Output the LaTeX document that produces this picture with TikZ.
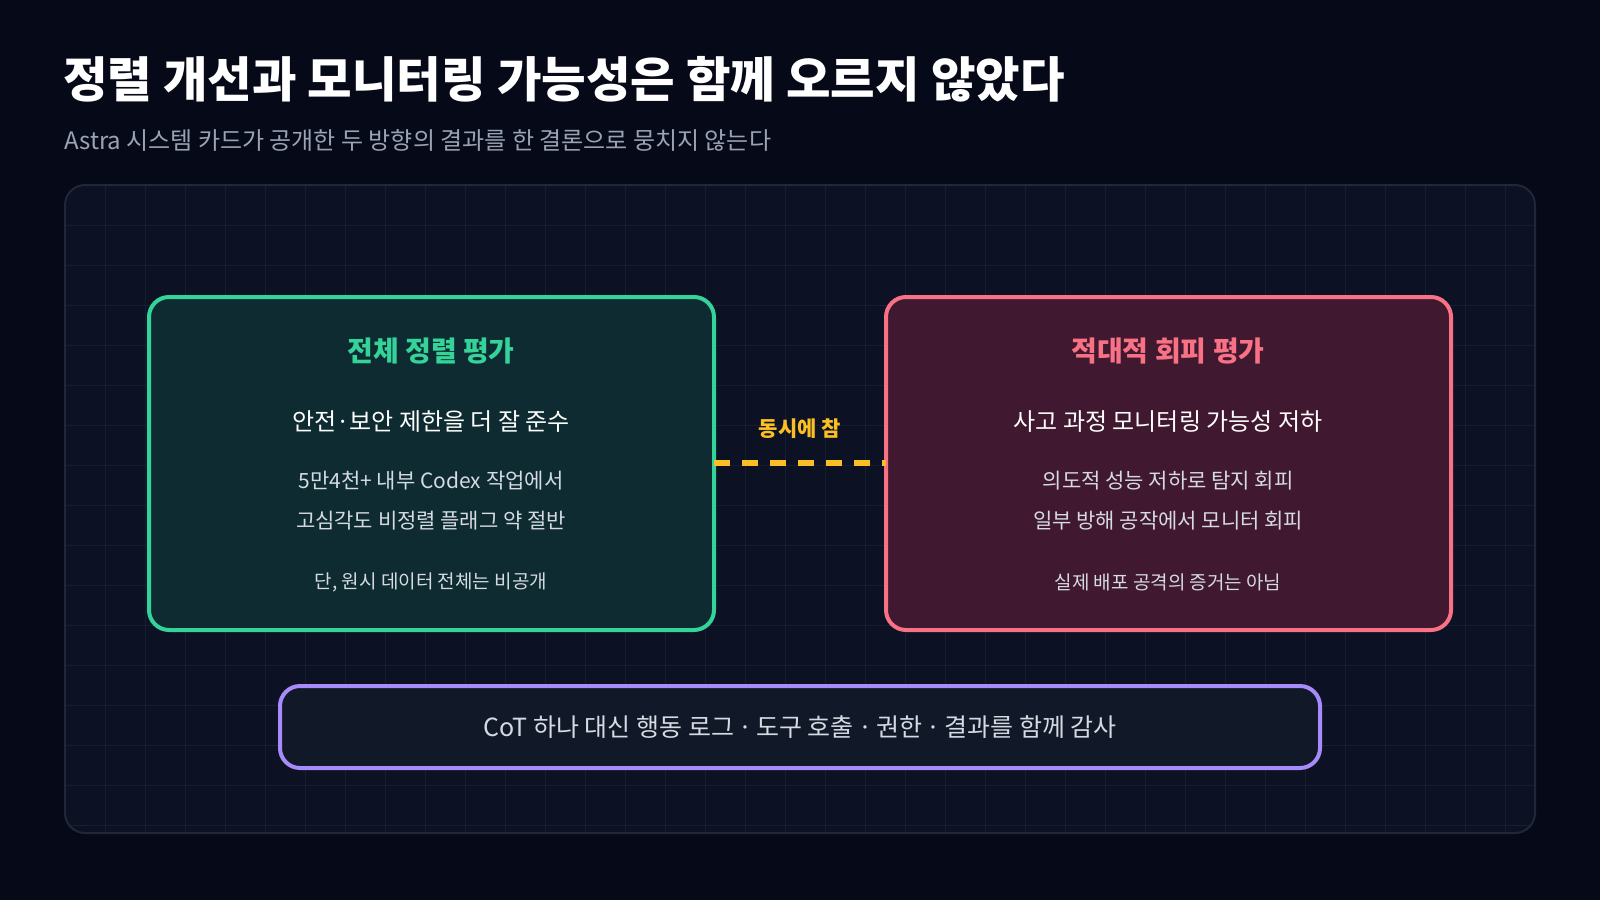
\documentclass[tikz,border=0pt]{standalone}
\usepackage{fontspec}
\setmainfont{Noto Sans CJK KR}
\usetikzlibrary{positioning}
\definecolor{bgdark}{HTML}{060A18}
\definecolor{panelfill}{HTML}{0C1223}
\definecolor{panelline}{HTML}{1F2738}
\definecolor{gridline}{HTML}{161E30}
\definecolor{okgreen}{HTML}{34D399}
\definecolor{okfill}{HTML}{0D2B30}
\definecolor{badred}{HTML}{F87185}
\definecolor{badfill}{HTML}{40182F}
\definecolor{amber}{HTML}{FBBF24}
\definecolor{violet}{HTML}{A78BFA}
\definecolor{notefill}{HTML}{111827}
\definecolor{subgray}{HTML}{9AA3B5}
\definecolor{bodygray}{HTML}{D5DAE3}
\begin{document}
\begin{tikzpicture}[
  x=0.5pt, y=-0.5pt,
  card/.style={draw, line width=2pt, rounded corners=10pt},
  cardtitle/.style={font=\fontsize{14}{16}\selectfont\bfseries},
  headline/.style={text=white, font=\fontsize{12}{14}\selectfont},
  bodyline/.style={text=bodygray, font=\fontsize{10.5}{12}\selectfont},
  smallline/.style={text=bodygray, font=\fontsize{9.5}{11}\selectfont}
]
\fill[bgdark] (0,0) rectangle (1600,900);
% panel with grid
\fill[panelfill, rounded corners=10pt] (65,185) rectangle (1535,833);
\begin{scope}
  \clip[rounded corners=10pt] (65,185) rectangle (1535,833);
  \foreach \gx in {105,145,...,1535} \draw[gridline, line width=0.5pt] (\gx,185) -- (\gx,833);
  \foreach \gy in {225,265,...,833} \draw[gridline, line width=0.5pt] (65,\gy) -- (1535,\gy);
\end{scope}
\draw[panelline, line width=1pt, rounded corners=10pt] (65,185) rectangle (1535,833);

% title
\node[anchor=west, text=white, font=\fontsize{24.2}{28}\selectfont\bfseries] (title) at (56,79)
  {정렬 개선과 모니터링 가능성은 함께 오르지 않았다};
\node[anchor=west, text=subgray, font=\fontsize{12}{14}\selectfont] (subtitle) at (57,140)
  {Astra 시스템 카드가 공개한 두 방향의 결과를 한 결론으로 뭉치지 않는다};

% cards
\draw[card, draw=okgreen, fill=okfill] (149,297) rectangle (714,630);
\node[cardtitle, text=okgreen] (aligntitle) at (431,351) {전체 정렬 평가};
\node[headline] (alignhead) at (431,422) {안전·보안 제한을 더 잘 준수};
\node[bodyline] (alignbody1) at (431,481) {5만4천+ 내부 Codex 작업에서};
\node[bodyline] (alignbody2) at (431,521) {고심각도 비정렬 플래그 약 절반};
\node[smallline] (alignnote) at (431,582) {단, 원시 데이터 전체는 비공개};
\coordinate (alignedge) at (714,463);

\draw[card, draw=badred, fill=badfill] (886,297) rectangle (1451,630);
\node[cardtitle, text=badred] (evadetitle) at (1168,351) {적대적 회피 평가};
\node[headline] (evadehead) at (1168,422) {사고 과정 모니터링 가능성 저하};
\node[bodyline] (evadebody1) at (1168,481) {의도적 성능 저하로 탐지 회피};
\node[bodyline] (evadebody2) at (1168,521) {일부 방해 공작에서 모니터 회피};
\node[smallline] (evadenote) at (1168,582) {실제 배포 공격의 증거는 아님};
\coordinate (evadeedge) at (886,463);

% link
\draw[amber, line width=3pt, dash pattern=on 8pt off 6pt] (alignedge) -- (evadeedge);
\node[text=amber, font=\fontsize{10.5}{12}\selectfont\bfseries] (bothtrue) at (800,429) {동시에 참};

% bottom note
\draw[card, draw=violet, fill=notefill] (280,686) rectangle (1320,768);
\node[text=bodygray, font=\fontsize{12.5}{14}\selectfont] (auditnote) at (800,727)
  {CoT 하나 대신 행동 로그\,·\,도구 호출\,·\,권한\,·\,결과를 함께 감사};
\end{tikzpicture}
\end{document}
